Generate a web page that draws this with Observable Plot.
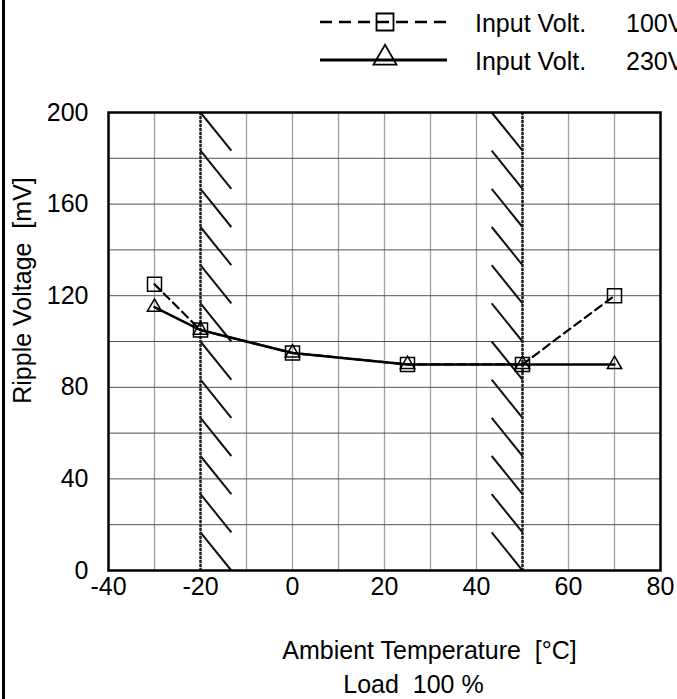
<!DOCTYPE html>
<html><head><meta charset="utf-8">
<script src="https://cdn.jsdelivr.net/npm/d3@7"></script>
<script src="https://cdn.jsdelivr.net/npm/@observablehq/plot@0.6"></script>
<style>
html,body{margin:0;padding:0;background:#fff;}
body{width:677px;height:699px;overflow:hidden;position:relative;font-family:"Liberation Sans",Arial,sans-serif;}
#legend{position:absolute;left:0;top:0;width:677px;height:90px;}
#chart{position:absolute;left:0;top:90px;}
#border{position:absolute;left:2px;top:0;width:3px;height:699px;background:#000;z-index:10;}
</style></head><body>
<div id="legend"></div>
<div id="chart"></div>
<div id="border"></div>
<script>
// ---- data ----
const temps = [-30, -20, 0, 25, 50, 70];
const ripple100 = [125, 105, 95, 90, 90, 120];
const ripple230 = [115, 105, 95, 90, 90, 90];
const seriesNames = ["100V", "230V"];
const legendPrefix = "Input Volt.";
const xTicks = [-40, -20, 0, 20, 40, 60, 80];
const yTicks = [0, 40, 80, 120, 160, 200];
const xGrid = [-30, -20, -10, 0, 10, 20, 30, 40, 50, 60, 70];
const yGrid = [20, 40, 60, 80, 100, 120, 140, 160, 180];
const deratingLimits = [-20, 50];   // operating temperature limits (hatched)
const hatchCount = 12;
const hatchWidth = 6.7;             // in °C
const xLabel = "Ambient Temperature  [°C]";
const yLabel = "Ripple Voltage  [mV]";
const caption = "Load  100 %";

// ---- derived tables ----
const rows100 = temps.map((t, i) => ({t, v: ripple100[i]}));
const rows230 = temps.map((t, i) => ({t, v: ripple230[i]}));
const yMax = yTicks[yTicks.length - 1];
const step = yMax / hatchCount;
const hatch = [];
deratingLimits.forEach((lim, j) => {
  for (let k = 0; k < hatchCount; k++) {
    const yTop = yMax - k * step, yBot = yMax - (k + 1) * step;
    if (j === 0) hatch.push({x1: lim, y1: yTop, x2: lim + hatchWidth, y2: yBot});
    else hatch.push({x1: lim - hatchWidth, y1: yTop, x2: lim, y2: yBot});
  }
});

const FONT = "Liberation Sans, Arial, sans-serif";
const FS = 25;

const chart = Plot.plot({
  width: 677,
  height: 609,
  marginLeft: 108,
  marginRight: 17,
  marginTop: 22,
  marginBottom: 129,
  style: {fontFamily: FONT, fontSize: FS + "px", color: "#000", background: "#fff", overflow: "visible"},
  x: {domain: [xTicks[0], xTicks[xTicks.length - 1]]},
  y: {domain: [yTicks[0], yMax]},
  marks: [
    Plot.ruleX(xGrid, {stroke: "#a0a0a0", strokeWidth: 1.3}),
    Plot.ruleY(yGrid, {stroke: "#505050", strokeWidth: 1}),
    Plot.link(hatch, {x1: "x1", y1: "y1", x2: "x2", y2: "y2", stroke: "#111", strokeWidth: 2}),
    Plot.ruleX(deratingLimits, {stroke: "#222", strokeWidth: 2.5, strokeDasharray: "3,1"}),
    Plot.line(rows100, {x: "t", y: "v", stroke: "#000", strokeWidth: 2.2, strokeDasharray: "8,5"}),
    Plot.line(rows230, {x: "t", y: "v", stroke: "#000", strokeWidth: 2.5}),
    Plot.dot(rows100, {x: "t", y: "v", symbol: "square", r: 7.9, fill: "none", stroke: "#000", strokeWidth: 1.5}),
    Plot.dot(rows230, {x: "t", y: "v", symbol: "triangle", r: 5.3, fill: "none", stroke: "#000", strokeWidth: 1.5}),
    Plot.frame({stroke: "#000", strokeWidth: 2.5}),
    Plot.axisX({ticks: xTicks, tickSize: 0, tickPadding: 7, label: null, fontSize: FS, tickFormat: d => String(d)}),
    Plot.axisY({ticks: yTicks, tickSize: 0, tickPadding: 20, label: null, fontSize: FS, tickFormat: d => String(d)}),
    Plot.text([xLabel], {frameAnchor: "bottom", textAnchor: "middle", lineAnchor: "middle", dx: 45, dy: 80, fontSize: FS, fill: "#000"}),
    Plot.text([caption], {frameAnchor: "bottom", textAnchor: "middle", lineAnchor: "middle", dx: 29, dy: 114, fontSize: FS, fill: "#000"}),
    Plot.text([yLabel], {frameAnchor: "left", textAnchor: "middle", lineAnchor: "middle", rotate: -90, dx: -86, dy: -51, fontSize: FS, fill: "#000"})
  ]
});
document.getElementById("chart").appendChild(chart);

// ---- legend (above the plot) ----
const leg = d3.select("#legend").append("svg").attr("width", 677).attr("height", 90)
  .style("font-family", FONT);
const lineY = [22, 60];
const textY = [32, 70];
seriesNames.forEach((name, i) => {
  const g = leg.append("g");
  g.append("line").attr("x1", 320).attr("x2", 447).attr("y1", lineY[i]).attr("y2", lineY[i])
    .attr("stroke", "#000").attr("stroke-width", i === 0 ? 2.4 : 3)
    .attr("stroke-dasharray", i === 0 ? "12,7" : null);
  const sym = i === 0 ? d3.symbol(d3.symbolSquare, 289) : d3.symbol(d3.symbolTriangle, 229);
  g.append("path").attr("d", sym()).attr("transform", `translate(385,${lineY[i] - (i === 0 ? 0 : 2)})`)
    .attr("fill", "none").attr("stroke", "#000").attr("stroke-width", 1.8);
  g.append("text").attr("x", 475).attr("y", textY[i]).attr("font-size", FS).text(legendPrefix);
  g.append("text").attr("x", 626).attr("y", textY[i]).attr("font-size", FS).text(name);
});
</script>
</body></html>
